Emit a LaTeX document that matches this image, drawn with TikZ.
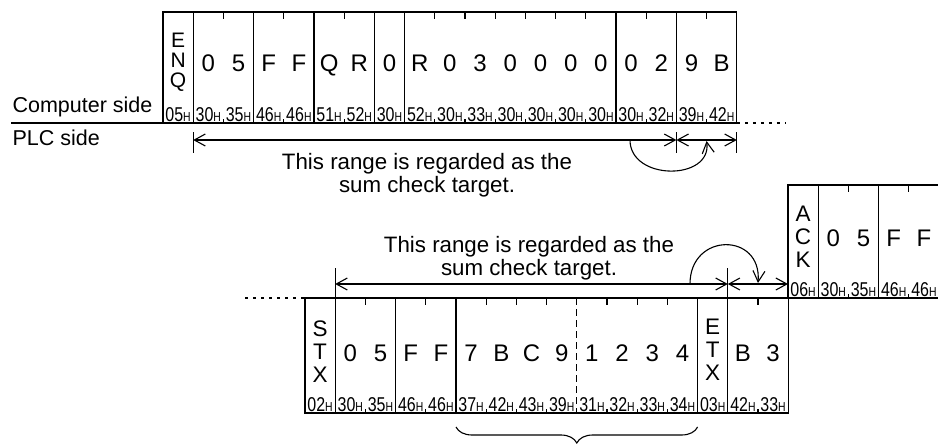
\documentclass[tikz,border=0pt]{standalone}
\usepackage{fontspec}
\setmainfont{Liberation Sans}
\usetikzlibrary{arrows.meta,positioning,decorations.pathreplacing}

\newcommand{\hexcode}[1]{\scalebox{0.8}[1]{\fontsize{20}{20}\selectfont #1\fontsize{13}{13}\selectfont H}}
\def\cw{30.2}

\begin{document}
\begin{tikzpicture}[x=1pt, y=-1pt, line width=1.1pt, >={Straight Barb[length=11pt,width=12pt]},
    every node/.style={inner sep=0pt},
    charlab/.style={font=\fontsize{24}{24}\selectfont, anchor=base},
    hexlab/.style={anchor=base},
    ctrlstack/.style={font=\fontsize{22.5}{#1}\selectfont, align=center},
    sidelab/.style={font=\fontsize{21.5}{23}\selectfont, anchor=base west},
    rangelab/.style={font=\fontsize{22.3}{23}\selectfont, align=center},
    dotline/.style={dash pattern=on 3pt off 5pt}]
    \useasboundingbox (0,0) rectangle (938,444);

    % Computer side frame
    \draw (11,123) -- (163,123);
    \draw (163,12) rectangle ({163+19*\cw},123);
    \draw[dotline] ({163+19*\cw},123) -- (786,123);
    \foreach \i in {1,3,5,7,8,15,17}
        \draw ({163+\i*\cw},12) -- ({163+\i*\cw},123);
    \foreach \i in {2,4,6,9,10,11,12,13,14,16,18} {
        \draw ({163+\i*\cw},12) -- ++(0,7);
        \draw ({163+\i*\cw},123) -- ++(0,-4);
    }
    \node[ctrlstack=20, font=\fontsize{21}{20}\selectfont] (enq) at ({163+0.5*\cw},62) {E\\N\\Q};
    \foreach \c [count=\i from 2] in {0,5,F,F,Q,R,0,R,0,3,0,0,0,0,0,2,9,B}
        \node[charlab] (tc\i) at ({163+(\i-0.5)*\cw},72) {\c};
    \foreach \h [count=\i] in {05,30,35,46,46,51,52,30,52,30,33,30,30,30,30,30,32,39,42}
        \node[hexlab] (th\i) at ({163+(\i-0.5)*\cw},121.5) {\hexcode{\h}};
    \node[sidelab] (comp) at (12,113) {Computer side};
    \node[sidelab] (plc) at (12,146) {PLC side};

    % Sum check range, computer side
    \coordinate (ta) at ({163+\cw},140);
    \coordinate (tb) at ({163+17*\cw},140);
    \coordinate (tc) at ({163+19*\cw},140);
    \foreach \p in {ta,tb,tc}
        \draw ([yshift=8pt]\p) -- ([yshift=-13pt]\p);
    \draw[<->] (ta) -- (tb);
    \draw[<->] (tb) -- (tc);
    \coordinate (tarc) at (630,140);
    \coordinate (tsum) at ({163+18*\cw},141);
    \draw[->] (tarc) .. controls (630,181) and (712,181) .. (tsum);
    \node[rangelab] (tcap) at (427,175) {This range is regarded as the\\sum check target.};

    % ACK frame
    \draw (938,185) -- (788,185) -- (788,298) -- (938,298);
    \foreach \i in {1,3}
        \draw ({788+\i*\cw},185) -- ({788+\i*\cw},298);
    \foreach \i in {2,4} {
        \draw ({788+\i*\cw},185) -- ++(0,7);
        \draw ({788+\i*\cw},298) -- ++(0,-4);
    }
    \node[ctrlstack=23] (ack) at ({788+0.5*\cw},237) {A\\C\\K};
    \foreach \c [count=\i from 2] in {0,5,F,F}
        \node[charlab] (ac\i) at ({788+(\i-0.5)*\cw},246) {\c};
    \foreach \h [count=\i] in {06,30,35,46,46}
        \node[hexlab] (ah\i) at ({788+(\i-0.5)*\cw},296.5) {\hexcode{\h}};

    % PLC side frame
    \draw[dotline] (245,298) -- (305,298);
    \draw (305,298) rectangle ({305+16*\cw},413);
    \foreach \i in {1,3,5,13,14}
        \draw ({305+\i*\cw},298) -- ({305+\i*\cw},413);
    \draw[dash pattern=on 7pt off 4pt] ({305+9*\cw},298) -- ({305+9*\cw},413);
    \foreach \i in {2,4,6,7,8,10,11,12,15} {
        \draw ({305+\i*\cw},298) -- ++(0,7);
        \draw ({305+\i*\cw},413) -- ++(0,-4);
    }
    \node[ctrlstack=23] (stx) at ({305+0.5*\cw},352) {S\\T\\X};
    \node[ctrlstack=23] (etx) at ({305+13.5*\cw},350) {E\\T\\X};
    \foreach \c [count=\i from 2] in {0,5,F,F,7,B,C,9,1,2,3,4}
        \node[charlab] (bc\i) at ({305+(\i-0.5)*\cw},361) {\c};
    \node[charlab] (bc15) at ({305+14.5*\cw},361) {B};
    \node[charlab] (bc16) at ({305+15.5*\cw},361) {3};
    \foreach \h [count=\i] in {02,30,35,46,46,37,42,43,39,31,32,33,34,03,42,33}
        \node[hexlab] (bh\i) at ({305+(\i-0.5)*\cw},411.5) {\hexcode{\h}};

    % Sum check range, PLC side
    \coordinate (ba) at ({305+\cw},284);
    \coordinate (bb) at ({305+14*\cw},284);
    \coordinate (bc) at (788,284);
    \foreach \p in {ba,bb}
        \draw ([yshift=16pt]\p) -- ([yshift=-14pt]\p);
    \draw[<->] (ba) -- (bb);
    \draw[<->] (bb) -- (bc);
    \coordinate (barc) at (690,284);
    \coordinate (bsum) at ({305+15*\cw},283);
    \draw[->] (barc) .. controls (690,232) and (762,232) .. (bsum);
    \node[rangelab] (bcap) at (529,258) {This range is regarded as the\\sum check target.};

    % Data brace
    \draw[decorate, decoration={brace, mirror, amplitude=16pt}] ({305+5*\cw},427) -- ({305+13*\cw},427);
\end{tikzpicture}
\end{document}
